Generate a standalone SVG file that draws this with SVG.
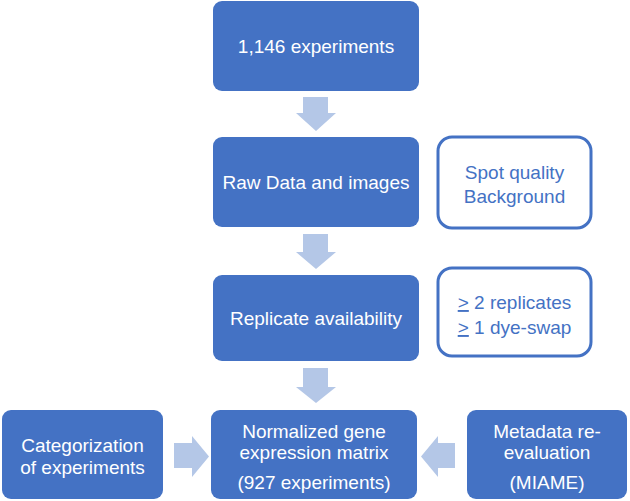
<svg xmlns="http://www.w3.org/2000/svg" width="630" height="501" viewBox="0 0 630 501">
<style>
.box{fill:#4472C4;}
.obox{fill:#FFFFFF;stroke:#4472C4;stroke-width:3;}
.arr{fill:#B4C7E7;}
.t{font-family:"Liberation Sans",Arial,sans-serif;font-size:19px;fill:#FFFFFF;text-anchor:middle;}
.b{font-family:"Liberation Sans",Arial,sans-serif;font-size:19px;fill:#4472C4;text-anchor:middle;}
</style>
<rect width="630" height="501" fill="#FFFFFF"/>
<g id="connectors">
<polygon class="arr" points="303,97 328,97 328,113 336,113 316,131 296,113 303,113"/>
<polygon class="arr" points="303,234 328,234 328,252 336,252 316,269 296,252 303,252"/>
<polygon class="arr" points="303,368 328,368 328,387 336,387 316,403 296,387 303,387"/>
<polygon class="arr" points="174,443 192,443 192,436 209,456.5 192,477 192,468 174,468"/>
<polygon class="arr" points="455,443 438,443 438,436 421,456.5 438,477 438,468 455,468"/>
</g>
<g id="experiments">
<rect class="box" x="213" y="1" width="206" height="90" rx="9"/>
<text class="t" x="316" y="53">1,146 experiments</text>
</g>
<g id="rawdata">
<rect class="box" x="213" y="137" width="206" height="90" rx="9"/>
<text class="t" x="316" y="189">Raw Data and images</text>
</g>
<g id="spotquality">
<rect class="obox" x="438" y="137" width="153" height="91" rx="14"/>
<text class="b" x="514.5" y="179">Spot quality</text>
<text class="b" x="514.5" y="203">Background</text>
</g>
<g id="replicate">
<rect class="box" x="213" y="275" width="206" height="86" rx="9"/>
<text class="t" x="316" y="325">Replicate availability</text>
</g>
<g id="replicatecriteria">
<rect class="obox" x="438" y="268" width="153" height="88" rx="14"/>
<text class="b" x="514.5" y="309"><tspan text-decoration="underline">&gt;</tspan> 2 replicates</text>
<text class="b" x="514.5" y="334"><tspan text-decoration="underline">&gt;</tspan> 1 dye-swap</text>
</g>
<g id="categorization">
<rect class="box" x="2" y="410" width="161" height="89" rx="9"/>
<text class="t" x="82.5" y="452">Categorization</text>
<text class="t" x="82.5" y="474">of experiments</text>
</g>
<g id="normalized">
<rect class="box" x="211" y="410" width="206" height="89" rx="9"/>
<text class="t" x="314" y="438">Normalized gene</text>
<text class="t" x="314" y="459">expression matrix</text>
<text class="t" x="314" y="489">(927 experiments)</text>
</g>
<g id="metadata">
<rect class="box" x="467" y="410" width="160" height="89" rx="9"/>
<text class="t" x="547" y="438">Metadata re-</text>
<text class="t" x="547" y="459">evaluation</text>
<text class="t" x="547" y="489">(MIAME)</text>
</g>
</svg>
